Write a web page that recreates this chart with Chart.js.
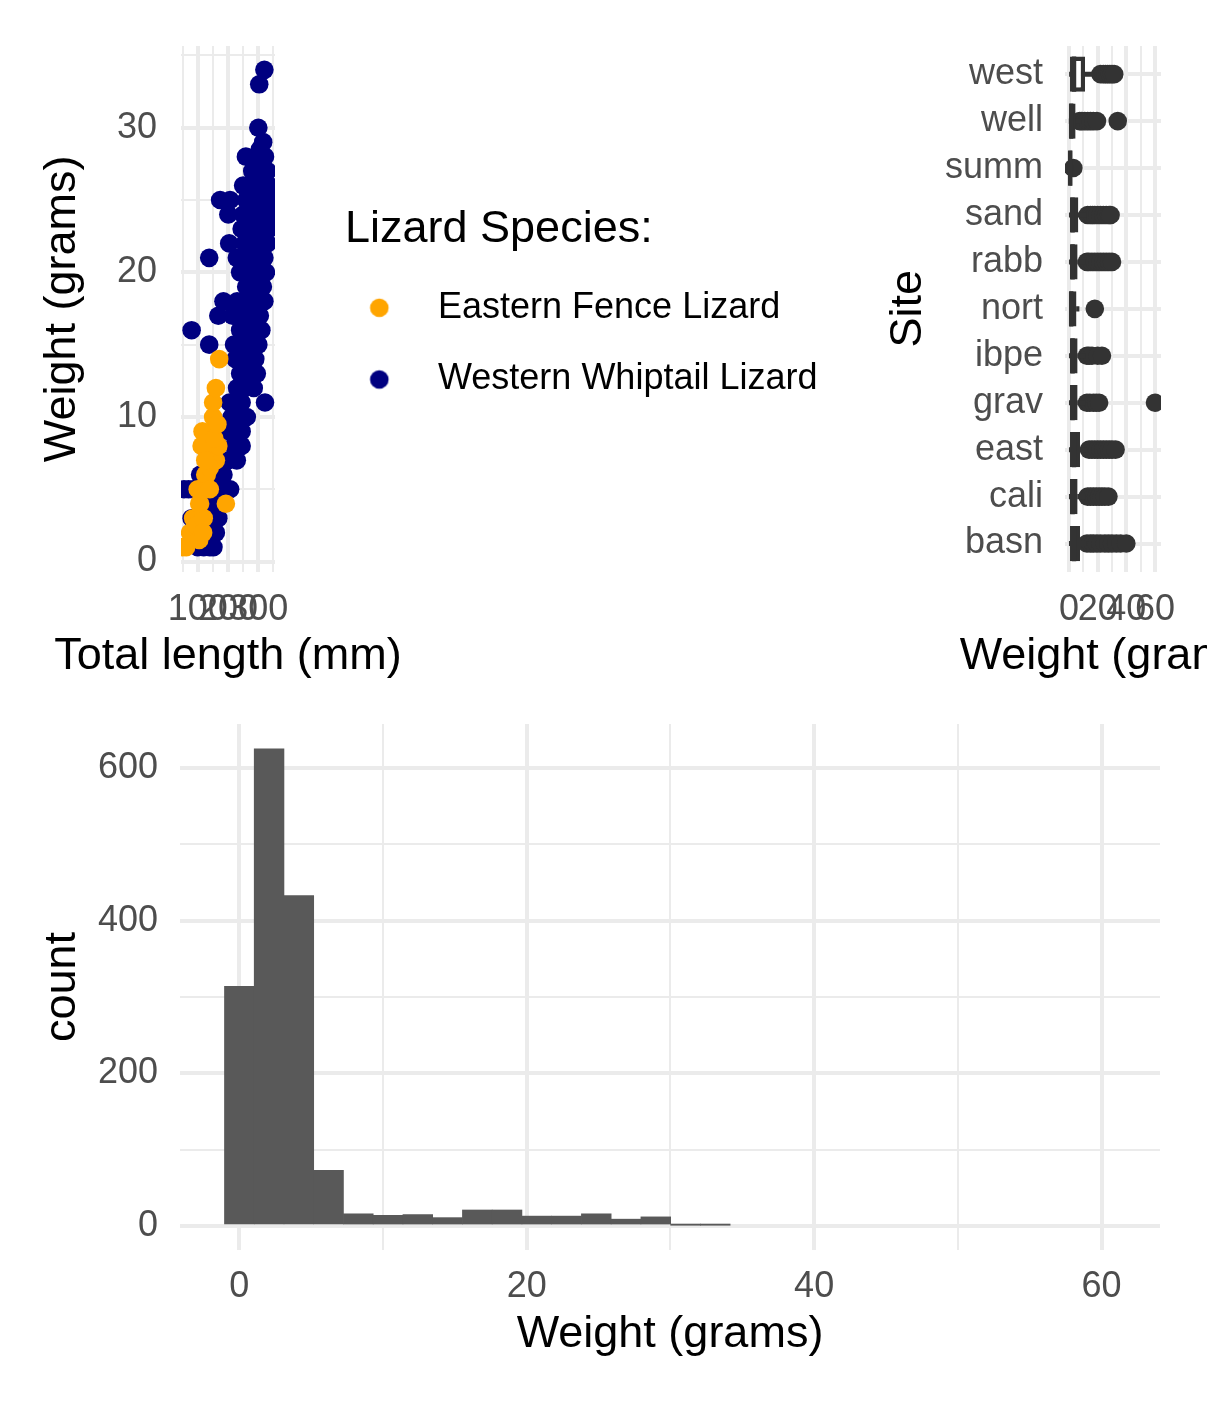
<!DOCTYPE html>
<html>
<head>
<meta charset="utf-8">
<script src="https://cdn.jsdelivr.net/npm/chart.js@4.4.1/dist/chart.umd.min.js"></script>
<style>
html, body { margin: 0; padding: 0; background: #ffffff; overflow: hidden; width: 1207px; height: 1402px; }
canvas { position: absolute; }
</style>
</head>
<body>
<canvas id="scatter" width="835" height="700" style="left:0px;top:0px"></canvas>
<canvas id="box" width="327" height="700" style="left:880px;top:0px"></canvas>
<canvas id="hist" width="1207" height="722" style="left:0px;top:680px"></canvas>
<script>
// ---------------- data ----------------
const speciesNames = ['Eastern Fence Lizard', 'Western Whiptail Lizard'];

const eastLength = [50,62,75,85,95,100,108,113,120,125,130,135,146,151,160,113,116,151,160,168,171,193,140,105,140,155,125,165,105,118];
const eastWeight = [1,1,2,3,2.5,5,4,5,3,6,6,8,7,10,7,8,9,11,12,8,14,4,5,4,6.5,8.5,7,9.5,1.5,2];

const westLength = [320,303,300,316,305,259,322,290,280,310,
  330,265,290,250,335,320,174,207,300,330,
  340,280,315,260,340,201,250,290,320,335,
  305,270,340,245,204,255,285,310,330,138,
  229,265,300,320,240,280,305,325,260,295,
  315,185,230,270,300,320,168,215,250,285,
  305,80,240,270,310,138,220,245,275,300,
  225,255,290,240,270,295,230,255,285,322,
  205,245,212,262,238,190,230,245,220,245,
  200,229,108,150,185,55,70,85,150,180,
  207,130,160,185,80,130,168,150,108,135,
  160,100,120,140,152];
const westWeight = [34,33,30,29,28.5,28,28,28,27,27,
  27,26,26,26,26,26,25,25,25,25,
  25,25,25,25,24,24,24,24,24,23,
  23,23,23.5,23,22,22,22,22,22,21,
  21,21,21,21,20,20,20,20,19,19,
  19,18,18,18,18,18,17,17,17,17,
  17,16,16,16,16,15,15,15,15,15,
  14,14,14,13,13,13,12,12,12,11,
  11,11,10,10,10,9,9,9,8,8,
  7,7,6,6,6,5,5,5,5,5,
  5,4,4,4,3,3,3,3,2,2,
  2,1,1,1,1];

const scatterXTicks = [50,100,150,200,250,300,350];
const scatterXLabels = [100,200,300];
const scatterYTicks = [0,5,10,15,20,25,30,35];
const scatterYLabels = [0,10,20,30];

const sites = ['basn','cali','east','grav','ibpe','nort','rabb','sand','summ','well','west'];
const boxLow    = [0.2,0.2,0.2,0.2,0.2,0,0.2,0.2,0.1,0.1,0.3];
const boxQ1     = [0.7,0.7,0.7,0.7,0.7,0.3,0.7,0.7,0.2,0.3,0.7];
const boxMedian = [3.5,2.5,3.5,2.5,2.5,1.5,2.5,2.5,0.8,1.5,3.5];
const boxQ3     = [7.7,6,7.7,6,6,5.2,6,6.5,2.4,4.6,11.2];
const boxHigh   = [12,11.5,13,11.5,11.5,7,11.5,12,2.6,7,17];
const boxOutliers = [
  [12.5,15,17,19.5,22,25,27.5,30,33,36,40],
  [13,15,17,19,21,23,25,27.5],
  [14,16,18,20,22,24,26,28,30,32.5],
  [12.5,14.5,17,19,21,60],
  [12.5,14,16,20,23],
  [18],
  [12.5,14,16,18,20,22,24,26,28,30],
  [13,15,16.5,18,20,22,24,26,28,29],
  [3],
  [7.5,9,11,13,15,17,19.5,34],
  [22,24,25.5,27,28.5,30,31.5]
];
const boxXTicks = [0,10,20,30,40,50,60];
const boxXLabels = [0,20,40,60];

const binCenters = [0,2.07,4.14,6.21,8.28,10.35,12.42,14.49,16.56,18.63,
  20.7,22.77,24.84,26.91,28.98,31.05,33.12,35.19,37.26,39.33,
  41.4,43.47,45.54,47.61,49.68,51.75,53.82,55.89,57.96,60.03];
const binCounts = [314,625,433,73,16,14,15,11,21,21,
  13,13,16,9,12,1,1,0,0,0,
  0,0,0,0,0,0,0,0,0,0];
const histXTicks = [0,10,20,30,40,50,60];
const histXLabels = [0,20,40,60];
const histYTicks = [0,100,200,300,400,500,600];
const histYLabels = [0,200,400,600];

// ---------------- style ----------------
const FONT = "'Liberation Sans', Arial, Helvetica, sans-serif";
Chart.defaults.font.family = FONT;
Chart.defaults.color = '#4D4D4D';
const GRID = '#EBEBEB';
const TICK_SIZE = 36;
const TITLE_SIZE = 45;
const speciesColors = ['#FFA500', '#000080'];
const boxColor = '#333333';

const wideXTitle = {
  id: 'wideXTitle',
  afterDraw(chart, args, opts) {
    const { ctx, chartArea } = chart;
    ctx.save();
    ctx.font = TITLE_SIZE + 'px ' + FONT;
    ctx.fillStyle = '#000000';
    ctx.textAlign = 'center';
    ctx.textBaseline = 'middle';
    ctx.fillText(opts.text, (chartArea.left + chartArea.right) / 2, chartArea.bottom + opts.offset);
    ctx.restore();
  }
};

function setTicks(values) {
  return (axis) => { axis.ticks = values.map(v => ({ value: v })); };
}
function gridWidth(majors) {
  return (c) => (c.tick && majors.includes(c.tick.value)) ? 4 : 2;
}
function tickOpts(majors, pad) {
  return {
    autoSkip: false, maxRotation: 0, minRotation: 0, padding: pad,
    color: '#4D4D4D', font: { size: TICK_SIZE },
    callback: (v) => majors.includes(v) ? String(v) : ''
  };
}
const common = {
  responsive: false,
  maintainAspectRatio: false,
  animation: false,
  devicePixelRatio: 1,
  events: []
};

// legend geometry
const LEG_PAD = 35.7;
const LEG_BOX = 39.3;
const measureCtx = document.createElement('canvas').getContext('2d');
measureCtx.font = 'normal ' + TICK_SIZE + 'px ' + FONT;
const widestLabel = Math.max(...speciesNames.map(n => measureCtx.measureText(n).width));
const legendWidth = LEG_PAD + LEG_BOX + TICK_SIZE / 2 + widestLabel + 10;
const scatterCanvas = document.getElementById('scatter');
scatterCanvas.width = Math.ceil(345 + legendWidth + 2);
const scatterPadRight = scatterCanvas.width - 345 - legendWidth;

function makeMarker(color) {
  const c = document.createElement('canvas');
  c.width = 64; c.height = 22;
  const g = c.getContext('2d');
  g.fillStyle = color;
  g.beginPath();
  g.arc(10.95, 11, 9.3, 0, Math.PI * 2);
  g.fill();
  return c;
}
const legendMarks = speciesColors.map(makeMarker);

// ---------------- scatter ----------------
new Chart(scatterCanvas, {
  type: 'scatter',
  data: {
    datasets: [
      {
        label: speciesNames[0],
        data: eastLength.map((x, i) => ({ x, y: eastWeight[i] })),
        backgroundColor: speciesColors[0], borderWidth: 0,
        pointRadius: 9.3, pointBorderWidth: 0, clip: 0
      },
      {
        label: speciesNames[1],
        data: westLength.map((x, i) => ({ x, y: westWeight[i] })),
        backgroundColor: speciesColors[1], borderWidth: 0,
        pointRadius: 9.3, pointBorderWidth: 0, clip: 0
      }
    ]
  },
  options: {
    ...common,
    layout: { padding: { top: 46, left: 0, right: scatterPadRight, bottom: 18.3 } },
    scales: {
      x: {
        type: 'linear', min: 45, max: 355,
        afterBuildTicks: setTicks(scatterXTicks),
        afterFit: (s) => { s.height = 110; },
        grid: { color: GRID, lineWidth: gridWidth(scatterXLabels), drawTicks: false },
        border: { display: false },
        ticks: tickOpts(scatterXLabels, 17)
      },
      y: {
        type: 'linear', min: -0.7, max: 35.65,
        afterBuildTicks: setTicks(scatterYTicks),
        afterFit: (s) => { s.width = 181; },
        grid: { color: GRID, lineWidth: gridWidth(scatterYLabels), drawTicks: false },
        border: { display: false },
        ticks: tickOpts(scatterYLabels, 24),
        title: { display: true, text: 'Weight (grams)', color: '#000000', font: { size: TITLE_SIZE }, padding: { top: 35.5, bottom: 0 } }
      },
      gap: {
        type: 'linear', position: 'right', display: true,
        afterFit: (s) => { s.width = 70; },
        grid: { display: false }, border: { display: false }, ticks: { display: false }
      }
    },
    plugins: {
      tooltip: { enabled: false },
      wideXTitle: { text: 'Total length (mm)', offset: 84.5 },
      legend: {
        display: true, position: 'right', align: 'start', maxWidth: legendWidth,
        title: {
          display: true, text: 'Lizard Species:', color: '#000000', position: 'start',
          font: { size: TITLE_SIZE, lineHeight: 1 }, padding: { top: 161.5, bottom: 1.6 }
        },
        labels: {
          color: '#000000', font: { size: TICK_SIZE },
          usePointStyle: true, pointStyleWidth: LEG_BOX, padding: LEG_PAD,
          generateLabels(chart) {
            const items = Chart.defaults.plugins.legend.labels.generateLabels(chart);
            items.forEach((it, i) => { it.pointStyle = legendMarks[i]; });
            return items;
          }
        }
      }
    }
  },
  plugins: [wideXTitle]
});

// ---------------- boxplot ----------------
new Chart(document.getElementById('box'), {
  type: 'bar',
  data: {
    datasets: [
      {
        type: 'scatter', label: 'median',
        data: sites.map((s, i) => ({ x: boxMedian[i], y: i })),
        pointStyle: 'line', pointRotation: 90, pointRadius: 17.6,
        pointBorderColor: boxColor, pointBorderWidth: 4.4, backgroundColor: boxColor,
        order: 1
      },
      {
        type: 'bar', label: 'box', indexAxis: 'y',
        data: sites.map((s, i) => ({ x: [boxQ1[i], boxQ3[i]], y: i })),
        backgroundColor: '#FFFFFF', borderColor: boxColor, borderWidth: 4.4, borderSkipped: false,
        barPercentage: 0.75, categoryPercentage: 1, grouped: false, order: 2
      },
      {
        type: 'bar', label: 'whisker low', indexAxis: 'y',
        data: sites.map((s, i) => ({ x: [boxLow[i], boxQ1[i]], y: i })),
        backgroundColor: boxColor, borderWidth: 0, barThickness: 4.4, grouped: false, order: 3
      },
      {
        type: 'bar', label: 'whisker high', indexAxis: 'y',
        data: sites.map((s, i) => ({ x: [boxQ3[i], boxHigh[i]], y: i })),
        backgroundColor: boxColor, borderWidth: 0, barThickness: 4.4, grouped: false, order: 3
      },
      {
        type: 'scatter', label: 'outliers',
        data: boxOutliers.flatMap((arr, i) => arr.map(v => ({ x: v, y: i }))),
        backgroundColor: boxColor, pointRadius: 9.3, pointBorderWidth: 0, borderWidth: 0,
        clip: 0, order: 4
      }
    ]
  },
  options: {
    ...common,
    indexAxis: 'y',
    layout: { padding: { top: 46, left: 0, right: 46, bottom: 18.3 } },
    scales: {
      x: {
        type: 'linear', min: -2.8, max: 64.2, offset: false,
        afterBuildTicks: setTicks(boxXTicks),
        afterFit: (s) => { s.height = 110; },
        grid: { color: GRID, lineWidth: gridWidth(boxXLabels), drawTicks: false, offset: false },
        border: { display: false },
        ticks: tickOpts(boxXLabels, 17)
      },
      y: {
        type: 'linear', min: -0.6, max: 10.6, offset: false,
        afterBuildTicks: setTicks(sites.map((s, i) => i)),
        afterFit: (s) => { s.width = 185; },
        grid: { color: GRID, lineWidth: 4, drawTicks: false, offset: false },
        border: { display: false },
        ticks: {
          autoSkip: false, padding: 22, color: '#4D4D4D', font: { size: TICK_SIZE },
          callback: (v) => sites[v] !== undefined ? sites[v] : ''
        },
        title: { display: true, text: 'Site', color: '#000000', font: { size: TITLE_SIZE }, padding: { top: 2, bottom: 0 } }
      }
    },
    plugins: {
      legend: { display: false },
      tooltip: { enabled: false },
      wideXTitle: { text: 'Weight (grams)', offset: 84.5 }
    }
  },
  plugins: [wideXTitle]
});

// ---------------- histogram ----------------
new Chart(document.getElementById('hist'), {
  type: 'bar',
  data: {
    datasets: [{
      label: 'count',
      data: binCenters.map((c, i) => ({ x: c, y: binCounts[i] })),
      backgroundColor: '#595959', borderWidth: 0,
      barPercentage: 1, categoryPercentage: 1,
      inflateAmount: (c) => (c.raw && c.raw.y > 0) ? 0.33 : 0
    }]
  },
  options: {
    ...common,
    layout: { padding: { top: 44, left: 0, right: 47, bottom: 32 } },
    scales: {
      x: {
        type: 'linear', min: -4.13, max: 64.07, offset: false,
        afterBuildTicks: setTicks(histXTicks),
        afterFit: (s) => { s.height = 120; },
        grid: { color: GRID, lineWidth: gridWidth(histXLabels), drawTicks: false, offset: false },
        border: { display: false },
        ticks: tickOpts(histXLabels, 15),
        title: { display: true, text: 'Weight (grams)', color: '#000000', font: { size: TITLE_SIZE }, padding: { top: 0, bottom: 8 } }
      },
      y: {
        type: 'linear', min: -31.4, max: 657.6,
        afterBuildTicks: setTicks(histYTicks),
        afterFit: (s) => { s.width = 180; },
        grid: { color: GRID, lineWidth: gridWidth(histYLabels), drawTicks: false },
        border: { display: false },
        ticks: tickOpts(histYLabels, 22),
        title: { display: true, text: 'count', color: '#000000', font: { size: TITLE_SIZE }, padding: { top: 35.5, bottom: 0 } }
      }
    },
    plugins: { legend: { display: false }, tooltip: { enabled: false } }
  }
});
</script>
</body>
</html>
